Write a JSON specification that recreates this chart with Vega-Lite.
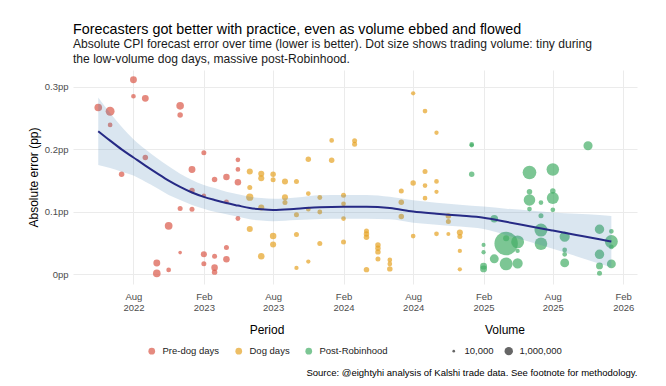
{
  "$schema": "https://vega.github.io/schema/vega-lite/v6.json",
  "width": 564,
  "height": 214,
  "autosize": {"type": "none"},
  "padding": {"left": 73, "top": 70, "right": 29, "bottom": 102},
  "background": "white",
  "title": {
    "text": "Forecasters got better with practice, even as volume ebbed and flowed",
    "subtitle": ["Absolute CPI forecast error over time (lower is better). Dot size shows trading volume: tiny during", "the low-volume dog days, massive post-Robinhood."],
    "anchor": "start",
    "frame": "group",
    "font": "Liberation Sans",
    "fontSize": 14.3,
    "fontWeight": "normal",
    "color": "#000000",
    "subtitleFont": "Liberation Sans",
    "subtitleFontSize": 12.1,
    "subtitleColor": "#1A1A1A",
    "subtitlePadding": 1,
    "subtitleLineHeight": 15,
    "offset": 5
  },
  "datasets": {
    "pts": [
      {"d": "2022-05-01", "e": 0.267, "v": 670000, "p": "Pre-dog days"},
      {"d": "2022-06-01", "e": 0.261, "v": 1260000, "p": "Pre-dog days"},
      {"d": "2022-06-01", "e": 0.239, "v": 100000, "p": "Pre-dog days"},
      {"d": "2022-07-01", "e": 0.160, "v": 180000, "p": "Pre-dog days"},
      {"d": "2022-08-01", "e": 0.3115, "v": 450000, "p": "Pre-dog days"},
      {"d": "2022-08-01", "e": 0.285, "v": 100000, "p": "Pre-dog days"},
      {"d": "2022-09-01", "e": 0.2816, "v": 450000, "p": "Pre-dog days"},
      {"d": "2022-09-01", "e": 0.187, "v": 180000, "p": "Pre-dog days"},
      {"d": "2022-10-01", "e": 0.018, "v": 450000, "p": "Pre-dog days"},
      {"d": "2022-10-01", "e": 0.0015, "v": 670000, "p": "Pre-dog days"},
      {"d": "2022-11-01", "e": 0.0776, "v": 720000, "p": "Pre-dog days"},
      {"d": "2022-11-01", "e": 0.007, "v": 100000, "p": "Pre-dog days"},
      {"d": "2022-12-01", "e": 0.2696, "v": 670000, "p": "Pre-dog days"},
      {"d": "2022-12-01", "e": 0.255, "v": 180000, "p": "Pre-dog days"},
      {"d": "2022-12-01", "e": 0.1053, "v": 125000, "p": "Pre-dog days"},
      {"d": "2022-12-01", "e": 0.0348, "v": 36000, "p": "Pre-dog days"},
      {"d": "2023-01-01", "e": 0.1678, "v": 450000, "p": "Pre-dog days"},
      {"d": "2023-01-01", "e": 0.134, "v": 180000, "p": "Pre-dog days"},
      {"d": "2023-01-01", "e": 0.104, "v": 125000, "p": "Pre-dog days"},
      {"d": "2023-02-01", "e": 0.1946, "v": 125000, "p": "Pre-dog days"},
      {"d": "2023-02-01", "e": 0.126, "v": 70000, "p": "Pre-dog days"},
      {"d": "2023-02-01", "e": 0.032, "v": 270000, "p": "Pre-dog days"},
      {"d": "2023-02-01", "e": 0.017, "v": 125000, "p": "Pre-dog days"},
      {"d": "2023-03-01", "e": 0.1518, "v": 180000, "p": "Pre-dog days"},
      {"d": "2023-03-01", "e": 0.0288, "v": 125000, "p": "Pre-dog days"},
      {"d": "2023-03-01", "e": 0.0107, "v": 360000, "p": "Pre-dog days"},
      {"d": "2023-03-01", "e": 0.0035, "v": 180000, "p": "Pre-dog days"},
      {"d": "2023-04-01", "e": 0.1558, "v": 360000, "p": "Pre-dog days"},
      {"d": "2023-04-01", "e": 0.116, "v": 110000, "p": "Pre-dog days"},
      {"d": "2023-04-01", "e": 0.043, "v": 125000, "p": "Pre-dog days"},
      {"d": "2023-04-01", "e": 0.024, "v": 360000, "p": "Pre-dog days"},
      {"d": "2023-05-01", "e": 0.1833, "v": 100000, "p": "Pre-dog days"},
      {"d": "2023-05-01", "e": 0.1678, "v": 100000, "p": "Pre-dog days"},
      {"d": "2023-05-01", "e": 0.1474, "v": 360000, "p": "Pre-dog days"},
      {"d": "2023-05-01", "e": 0.0893, "v": 110000, "p": "Pre-dog days"},
      {"d": "2023-06-01", "e": 0.1646, "v": 270000, "p": "Dog days"},
      {"d": "2023-06-01", "e": 0.139, "v": 125000, "p": "Dog days"},
      {"d": "2023-06-01", "e": 0.1234, "v": 540000, "p": "Dog days"},
      {"d": "2023-06-01", "e": 0.0724, "v": 270000, "p": "Dog days"},
      {"d": "2023-07-01", "e": 0.161, "v": 270000, "p": "Dog days"},
      {"d": "2023-07-01", "e": 0.1538, "v": 270000, "p": "Dog days"},
      {"d": "2023-07-01", "e": 0.1069, "v": 270000, "p": "Dog days"},
      {"d": "2023-07-01", "e": 0.0288, "v": 360000, "p": "Dog days"},
      {"d": "2023-08-01", "e": 0.160, "v": 180000, "p": "Dog days"},
      {"d": "2023-08-01", "e": 0.1514, "v": 125000, "p": "Dog days"},
      {"d": "2023-08-01", "e": 0.0612, "v": 360000, "p": "Dog days"},
      {"d": "2023-08-01", "e": 0.0476, "v": 270000, "p": "Dog days"},
      {"d": "2023-09-01", "e": 0.1486, "v": 270000, "p": "Dog days"},
      {"d": "2023-09-01", "e": 0.1232, "v": 270000, "p": "Dog days"},
      {"d": "2023-09-01", "e": 0.1149, "v": 125000, "p": "Dog days"},
      {"d": "2023-10-01", "e": 0.1486, "v": 125000, "p": "Dog days"},
      {"d": "2023-10-01", "e": 0.0952, "v": 125000, "p": "Dog days"},
      {"d": "2023-10-01", "e": 0.0636, "v": 125000, "p": "Dog days"},
      {"d": "2023-10-01", "e": 0.0103, "v": 70000, "p": "Dog days"},
      {"d": "2023-11-01", "e": 0.1841, "v": 180000, "p": "Dog days"},
      {"d": "2023-11-01", "e": 0.1293, "v": 100000, "p": "Dog days"},
      {"d": "2023-11-01", "e": 0.1042, "v": 100000, "p": "Dog days"},
      {"d": "2023-11-01", "e": 0.0204, "v": 70000, "p": "Dog days"},
      {"d": "2023-12-01", "e": 0.1229, "v": 110000, "p": "Dog days"},
      {"d": "2023-12-01", "e": 0.0997, "v": 110000, "p": "Dog days"},
      {"d": "2023-12-01", "e": 0.0492, "v": 125000, "p": "Dog days"},
      {"d": "2024-01-01", "e": 0.2143, "v": 100000, "p": "Dog days"},
      {"d": "2024-01-01", "e": 0.1827, "v": 180000, "p": "Dog days"},
      {"d": "2024-02-01", "e": 0.1266, "v": 125000, "p": "Dog days"},
      {"d": "2024-02-01", "e": 0.1128, "v": 100000, "p": "Dog days"},
      {"d": "2024-02-01", "e": 0.0893, "v": 100000, "p": "Dog days"},
      {"d": "2024-02-01", "e": 0.0519, "v": 125000, "p": "Dog days"},
      {"d": "2024-03-01", "e": 0.2138, "v": 125000, "p": "Dog days"},
      {"d": "2024-03-01", "e": 0.2082, "v": 125000, "p": "Dog days"},
      {"d": "2024-04-01", "e": 0.0692, "v": 125000, "p": "Dog days"},
      {"d": "2024-04-01", "e": 0.0647, "v": 180000, "p": "Dog days"},
      {"d": "2024-04-01", "e": 0.0593, "v": 180000, "p": "Dog days"},
      {"d": "2024-04-01", "e": 0.0075, "v": 180000, "p": "Dog days"},
      {"d": "2024-05-01", "e": 0.0468, "v": 180000, "p": "Dog days"},
      {"d": "2024-05-01", "e": 0.0417, "v": 180000, "p": "Dog days"},
      {"d": "2024-05-01", "e": 0.0359, "v": 180000, "p": "Dog days"},
      {"d": "2024-05-01", "e": 0.0244, "v": 125000, "p": "Dog days"},
      {"d": "2024-06-01", "e": 0.0231, "v": 100000, "p": "Dog days"},
      {"d": "2024-06-01", "e": 0.0167, "v": 100000, "p": "Dog days"},
      {"d": "2024-06-01", "e": 0.0087, "v": 180000, "p": "Dog days"},
      {"d": "2024-07-01", "e": 0.1333, "v": 125000, "p": "Dog days"},
      {"d": "2024-07-01", "e": 0.1154, "v": 180000, "p": "Dog days"},
      {"d": "2024-07-01", "e": 0.0925, "v": 180000, "p": "Dog days"},
      {"d": "2024-08-01", "e": 0.2896, "v": 70000, "p": "Dog days"},
      {"d": "2024-08-01", "e": 0.1462, "v": 180000, "p": "Dog days"},
      {"d": "2024-08-01", "e": 0.0612, "v": 100000, "p": "Dog days"},
      {"d": "2024-09-01", "e": 0.2612, "v": 100000, "p": "Dog days"},
      {"d": "2024-09-01", "e": 0.1646, "v": 125000, "p": "Dog days"},
      {"d": "2024-09-01", "e": 0.1421, "v": 100000, "p": "Dog days"},
      {"d": "2024-09-01", "e": 0.1218, "v": 100000, "p": "Dog days"},
      {"d": "2024-10-01", "e": 0.2266, "v": 70000, "p": "Dog days"},
      {"d": "2024-10-01", "e": 0.1486, "v": 100000, "p": "Dog days"},
      {"d": "2024-10-01", "e": 0.132, "v": 70000, "p": "Dog days"},
      {"d": "2024-10-01", "e": 0.0649, "v": 100000, "p": "Dog days"},
      {"d": "2024-11-01", "e": 0.0933, "v": 180000, "p": "Dog days"},
      {"d": "2024-11-01", "e": 0.0845, "v": 125000, "p": "Dog days"},
      {"d": "2024-11-01", "e": 0.0644, "v": 55000, "p": "Dog days"},
      {"d": "2024-12-01", "e": 0.0668, "v": 270000, "p": "Dog days"},
      {"d": "2024-12-01", "e": 0.0604, "v": 125000, "p": "Dog days"},
      {"d": "2024-12-01", "e": 0.0375, "v": 70000, "p": "Dog days"},
      {"d": "2024-12-01", "e": 0.008, "v": 70000, "p": "Dog days"},
      {"d": "2025-01-01", "e": 0.2079, "v": 100000, "p": "Post-Robinhood"},
      {"d": "2025-01-01", "e": 0.2065, "v": 70000, "p": "Post-Robinhood"},
      {"d": "2025-01-01", "e": 0.1603, "v": 180000, "p": "Post-Robinhood"},
      {"d": "2025-02-01", "e": 0.0471, "v": 55000, "p": "Post-Robinhood"},
      {"d": "2025-02-01", "e": 0.0353, "v": 70000, "p": "Post-Robinhood"},
      {"d": "2025-02-01", "e": 0.0131, "v": 450000, "p": "Post-Robinhood"},
      {"d": "2025-02-01", "e": 0.0087, "v": 450000, "p": "Post-Robinhood"},
      {"d": "2025-03-01", "e": 0.0889, "v": 670000, "p": "Post-Robinhood"},
      {"d": "2025-03-01", "e": 0.0248, "v": 1260000, "p": "Post-Robinhood"},
      {"d": "2025-04-01", "e": 0.0492, "v": 60000000, "p": "Post-Robinhood"},
      {"d": "2025-04-01", "e": 0.0577, "v": 270000, "p": "Post-Robinhood"},
      {"d": "2025-04-01", "e": 0.0167, "v": 5600000, "p": "Post-Robinhood"},
      {"d": "2025-05-01", "e": 0.0519, "v": 5600000, "p": "Post-Robinhood"},
      {"d": "2025-05-01", "e": 0.0375, "v": 70000, "p": "Post-Robinhood"},
      {"d": "2025-05-01", "e": 0.0176, "v": 2200000, "p": "Post-Robinhood"},
      {"d": "2025-06-01", "e": 0.163, "v": 7000000, "p": "Post-Robinhood"},
      {"d": "2025-06-01", "e": 0.1322, "v": 180000, "p": "Post-Robinhood"},
      {"d": "2025-06-01", "e": 0.1189, "v": 3600000, "p": "Post-Robinhood"},
      {"d": "2025-06-01", "e": 0.1045, "v": 100000, "p": "Post-Robinhood"},
      {"d": "2025-07-01", "e": 0.1149, "v": 100000, "p": "Post-Robinhood"},
      {"d": "2025-07-01", "e": 0.0936, "v": 125000, "p": "Post-Robinhood"},
      {"d": "2025-07-01", "e": 0.0708, "v": 5600000, "p": "Post-Robinhood"},
      {"d": "2025-07-01", "e": 0.0489, "v": 4900000, "p": "Post-Robinhood"},
      {"d": "2025-08-01", "e": 0.1678, "v": 4900000, "p": "Post-Robinhood"},
      {"d": "2025-08-01", "e": 0.1333, "v": 180000, "p": "Post-Robinhood"},
      {"d": "2025-08-01", "e": 0.1221, "v": 4200000, "p": "Post-Robinhood"},
      {"d": "2025-08-01", "e": 0.1032, "v": 100000, "p": "Post-Robinhood"},
      {"d": "2025-09-01", "e": 0.0604, "v": 2200000, "p": "Post-Robinhood"},
      {"d": "2025-09-01", "e": 0.0391, "v": 100000, "p": "Post-Robinhood"},
      {"d": "2025-09-01", "e": 0.032, "v": 100000, "p": "Post-Robinhood"},
      {"d": "2025-09-01", "e": 0.0183, "v": 1260000, "p": "Post-Robinhood"},
      {"d": "2025-11-01", "e": 0.2058, "v": 1400000, "p": "Post-Robinhood"},
      {"d": "2025-12-01", "e": 0.0721, "v": 1600000, "p": "Post-Robinhood"},
      {"d": "2025-12-01", "e": 0.032, "v": 1600000, "p": "Post-Robinhood"},
      {"d": "2025-12-01", "e": 0.0135, "v": 450000, "p": "Post-Robinhood"},
      {"d": "2025-12-01", "e": 0.0016, "v": 125000, "p": "Post-Robinhood"},
      {"d": "2026-01-01", "e": 0.0689, "v": 100000, "p": "Post-Robinhood"},
      {"d": "2026-01-01", "e": 0.0524, "v": 5600000, "p": "Post-Robinhood"},
      {"d": "2026-01-01", "e": 0.0439, "v": 100000, "p": "Post-Robinhood"},
      {"d": "2026-01-01", "e": 0.0167, "v": 1260000, "p": "Post-Robinhood"}
    ],
    "smooth": [
      {"d": "2022-05-01", "m": 0.229, "lo": 0.175, "hi": 0.283},
      {"d": "2022-06-01", "m": 0.214, "lo": 0.170, "hi": 0.258},
      {"d": "2022-07-01", "m": 0.200, "lo": 0.164, "hi": 0.236},
      {"d": "2022-08-01", "m": 0.187, "lo": 0.158, "hi": 0.216},
      {"d": "2022-09-01", "m": 0.174, "lo": 0.148, "hi": 0.200},
      {"d": "2022-10-01", "m": 0.162, "lo": 0.138, "hi": 0.186},
      {"d": "2022-11-01", "m": 0.150, "lo": 0.127, "hi": 0.173},
      {"d": "2022-12-01", "m": 0.140, "lo": 0.119, "hi": 0.161},
      {"d": "2023-01-01", "m": 0.131, "lo": 0.111, "hi": 0.151},
      {"d": "2023-02-01", "m": 0.124, "lo": 0.105, "hi": 0.143},
      {"d": "2023-03-01", "m": 0.119, "lo": 0.100, "hi": 0.138},
      {"d": "2023-04-01", "m": 0.114, "lo": 0.096, "hi": 0.132},
      {"d": "2023-05-01", "m": 0.110, "lo": 0.092, "hi": 0.128},
      {"d": "2023-06-01", "m": 0.106, "lo": 0.088, "hi": 0.124},
      {"d": "2023-07-01", "m": 0.104, "lo": 0.086, "hi": 0.122},
      {"d": "2023-08-01", "m": 0.103, "lo": 0.085, "hi": 0.121},
      {"d": "2023-10-01", "m": 0.105, "lo": 0.087, "hi": 0.123},
      {"d": "2023-12-01", "m": 0.1075, "lo": 0.0885, "hi": 0.1265},
      {"d": "2024-02-01", "m": 0.108, "lo": 0.089, "hi": 0.127},
      {"d": "2024-04-01", "m": 0.108, "lo": 0.089, "hi": 0.127},
      {"d": "2024-06-01", "m": 0.106, "lo": 0.088, "hi": 0.124},
      {"d": "2024-08-01", "m": 0.1005, "lo": 0.0825, "hi": 0.1185},
      {"d": "2024-10-01", "m": 0.097, "lo": 0.0795, "hi": 0.1145},
      {"d": "2024-12-01", "m": 0.094, "lo": 0.0765, "hi": 0.1115},
      {"d": "2025-02-01", "m": 0.0905, "lo": 0.0725, "hi": 0.1085},
      {"d": "2025-04-01", "m": 0.084, "lo": 0.063, "hi": 0.105},
      {"d": "2025-06-01", "m": 0.077, "lo": 0.052, "hi": 0.102},
      {"d": "2025-08-01", "m": 0.070, "lo": 0.041, "hi": 0.099},
      {"d": "2025-10-01", "m": 0.063, "lo": 0.029, "hi": 0.097},
      {"d": "2025-12-01", "m": 0.056, "lo": 0.017, "hi": 0.095},
      {"d": "2026-01-01", "m": 0.0525, "lo": 0.0115, "hi": 0.0935}
    ]
  },
  "encoding": {
    "x": {
      "field": "d",
      "type": "temporal",
      "title": "Source: @eightyhi analysis of Kalshi trade data. See footnote for methodology.",
      "scale": {"type": "utc", "domain": ["2022-02-24", "2026-03-09"]},
      "axis": {
        "values": [
          {"year": 2022, "month": 8, "date": 1, "utc": true},
          {"year": 2023, "month": 2, "date": 1, "utc": true},
          {"year": 2023, "month": 8, "date": 1, "utc": true},
          {"year": 2024, "month": 2, "date": 1, "utc": true},
          {"year": 2024, "month": 8, "date": 1, "utc": true},
          {"year": 2025, "month": 2, "date": 1, "utc": true},
          {"year": 2025, "month": 8, "date": 1, "utc": true},
          {"year": 2026, "month": 2, "date": 1, "utc": true}
        ],
        "labelExpr": "[utcFormat(datum.value, '%b'), utcFormat(datum.value, '%Y')]",
        "labelLineHeight": 11.5,
        "labelPadding": 7,
        "labelBaseline": "top",
        "titleAnchor": "end",
        "titleAlign": "right",
        "titleFontSize": 9.5,
        "titleFontWeight": "normal",
        "titleColor": "#000000",
        "titlePadding": 55
      }
    }
  },
  "layer": [
    {
      "data": {"name": "pts"},
      "mark": {"type": "circle", "opacity": 0.7, "strokeWidth": 0},
      "encoding": {
        "y": {
          "field": "e",
          "type": "quantitative",
          "title": "Absolute error (pp)",
          "scale": {"domain": [-0.0155, 0.327], "nice": false, "zero": false},
          "axis": {
            "values": [0, 0.1, 0.2, 0.3],
            "labelExpr": "datum.value == 0 ? '0pp' : format(datum.value, '.1f') + 'pp'",
            "labelPadding": 5,
            "titleFontSize": 12,
            "titleFontWeight": "normal",
            "titleColor": "#000000",
            "titlePadding": 4
          }
        },
        "color": {
          "field": "p",
          "type": "nominal",
          "title": "Period",
          "scale": {"domain": ["Pre-dog days", "Dog days", "Post-Robinhood"], "range": ["#DA5849", "#E6A224", "#44AE66"]},
          "legend": {
            "orient": "none",
            "legendX": 74,
            "legendY": 255,
            "direction": "horizontal",
            "titleAnchor": "middle",
            "titleFontWeight": "normal",
            "titleFontSize": 12,
            "symbolType": "circle",
            "symbolSize": 45,
            "symbolOpacity": 0.7,
            "symbolStrokeWidth": 0,
            "columnPadding": 14,
            "labelOffset": 6
          }
        },
        "size": {
          "field": "v",
          "type": "quantitative",
          "title": "Volume",
          "scale": {"type": "sqrt", "domain": [0, 62000000], "range": [0, 557], "zero": true},
          "legend": {
            "orient": "none",
            "legendX": 376,
            "legendY": 255,
            "direction": "horizontal",
            "titleAnchor": "middle",
            "titleFontWeight": "normal",
            "titleFontSize": 12,
            "values": [10000, 1000000],
            "labelExpr": "format(datum.value, ',')",
            "symbolType": "circle",
            "symbolFillColor": "#333333",
            "symbolOpacity": 0.75,
            "symbolStrokeWidth": 0,
            "columnPadding": 10,
            "labelOffset": 6
          }
        }
      }
    },
    {
      "data": {"name": "smooth"},
      "mark": {"type": "area", "color": "#4682B4", "opacity": 0.2, "interpolate": "monotone"},
      "encoding": {
        "y": {"field": "lo", "type": "quantitative", "title": "Absolute error (pp)"},
        "y2": {"field": "hi"}
      }
    },
    {
      "data": {"name": "smooth"},
      "mark": {"type": "line", "color": "#262A85", "strokeWidth": 2, "interpolate": "monotone"},
      "encoding": {
        "y": {"field": "m", "type": "quantitative", "title": "Absolute error (pp)"}
      }
    }
  ],
  "config": {
    "font": "Liberation Sans",
    "view": {"stroke": null},
    "axis": {
      "domain": false,
      "ticks": false,
      "grid": true,
      "gridColor": "#EBEBEB",
      "gridWidth": 1,
      "labelColor": "#4D4D4D",
      "labelFontSize": 9.5,
      "labelFont": "Liberation Sans"
    },
    "legend": {
      "titleFontSize": 12,
      "titleFontWeight": "normal",
      "titleColor": "#000000",
      "titlePadding": 9,
      "labelFontSize": 9.5,
      "labelColor": "#222222"
    }
  }
}
